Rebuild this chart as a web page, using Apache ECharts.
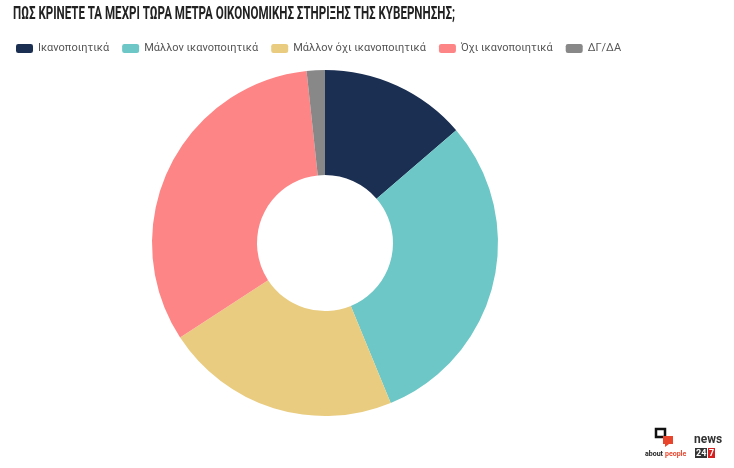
<!DOCTYPE html>
<html><head><meta charset="utf-8">
<script src="https://cdn.jsdelivr.net/npm/echarts@6/dist/echarts.min.js"></script>
<style>html,body{margin:0;padding:0;background:#fff}#c{width:734px;height:468px}</style>
</head><body><div id="c"></div>
<script>
const titleText = 'ΠΩΣ ΚΡΙΝΕΤΕ ΤΑ ΜΕΧΡΙ ΤΩΡΑ ΜΕΤΡΑ ΟΙΚΟΝΟΜΙΚΗΣ ΣΤΗΡΙΞΗΣ ΤΗΣ ΚΥΒΕΡΝΗΣΗΣ;';
const categories = ['Ικανοποιητικά','Μάλλον ικανοποιητικά','Μάλλον όχι ικανοποιητικά','Όχι ικανοποιητικά','ΔΓ/ΔΑ'];
const values = [13.7, 30.1, 22.0, 32.5, 1.7];
const colors = ['#1b2f52','#6cc7c6','#e9cc80','#fe8585','#888888'];

const titleFont = 'bold 19px Roboto';
const cv = document.createElement('canvas').getContext('2d');
cv.font = titleFont;
const tw = cv.measureText(titleText).width;
const titleScale = 442 / tw;

const chart = echarts.init(document.getElementById('c'));
chart.setOption({
  animation:false,
  color: colors,
  legend:{left:11,top:38,itemWidth:17,itemHeight:9,itemGap:13,icon:'roundRect',
    textStyle:{fontFamily:'Roboto',fontSize:11,color:'#555'}},
  series:[{type:'pie',center:[325,243],radius:[68,173],startAngle:90,clockwise:true,
    label:{show:false},labelLine:{show:false},
    data:categories.map((n,i)=>({name:n,value:values[i]}))}],
  graphic:[
    {type:'text',x:13,y:5,scaleX:titleScale,style:{text:titleText,font:titleFont,fill:'#222'}},
    {type:'rect',shape:{x:656,y:429,width:9,height:8},style:{fill:'none',stroke:'#111',lineWidth:2.5}},
    {type:'rect',shape:{x:663,y:436,width:10,height:8},style:{fill:'#e8452c'}},
    {type:'polygon',shape:{points:[[665,444],[669,444],[665,447]]},style:{fill:'#e8452c'}},
    {type:'text',x:645,y:451,style:{text:'about',font:'bold 7px Roboto',fill:'#222'}},
    {type:'text',x:665,y:451,style:{text:'people',font:'bold 7px Roboto',fill:'#e8452c'}},
    {type:'text',x:694,y:434,style:{text:'news',font:'bold 12px Roboto',fill:'#333'}},
    {type:'rect',shape:{x:695,y:448,width:12,height:10},style:{fill:'#333'}},
    {type:'rect',shape:{x:708,y:448,width:7,height:10},style:{fill:'#d61f1f'}},
    {type:'text',x:696,y:449,style:{text:'24',font:'bold 9px Roboto',fill:'#fff'}},
    {type:'text',x:709,y:449,style:{text:'7',font:'bold 9px Roboto',fill:'#fff'}}
  ]
});
</script></body></html>
